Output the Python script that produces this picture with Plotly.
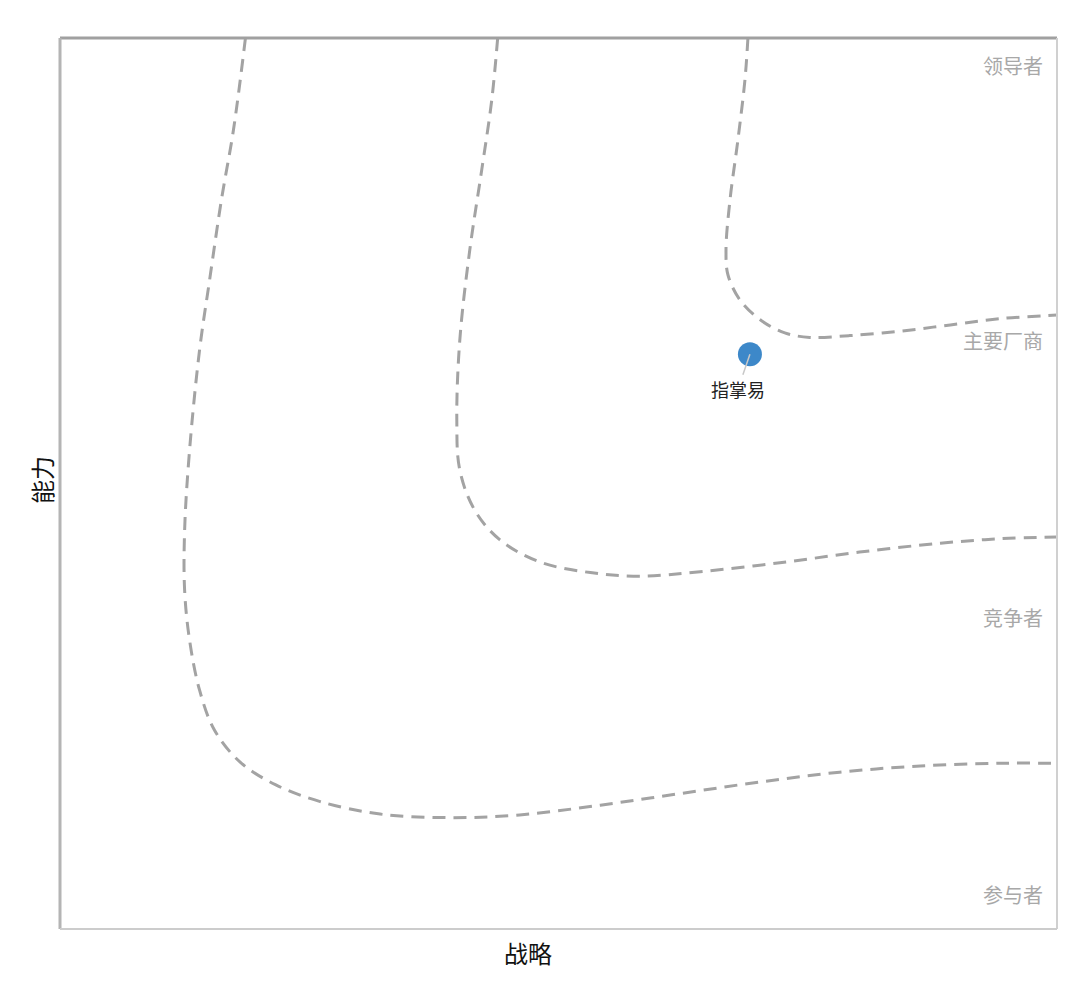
import plotly.graph_objects as go

# Boundary curves (strategy x, capability y), in 0-100 units
outer_x = [18.6, 17.4, 16.2, 15.0, 14.0, 13.0, 12.5, 12.5, 13.0, 14.0, 15.5, 18.1, 21.6, 26.1, 32.1, 39.1, 46.1, 54.2, 62.2, 70.2, 78.2, 86.3, 94.3, 100]
outer_y = [100, 89.7, 81.9, 72.8, 65.0, 53.8, 44.8, 38.0, 32.4, 26.8, 22.3, 18.7, 16.2, 14.3, 12.9, 12.5, 12.8, 13.9, 15.2, 16.5, 17.6, 18.3, 18.6, 18.6]

middle_x = [43.9, 43.3, 42.3, 41.1, 40.1, 39.8, 40.1, 41.6, 44.1, 48.1, 53.2, 58.2, 64.2, 72.2, 80.2, 88.3, 94.3, 100]
middle_y = [100, 93.0, 85.2, 76.2, 66.1, 57.1, 51.5, 47.0, 43.7, 41.2, 40.0, 39.6, 40.1, 41.1, 42.3, 43.3, 43.8, 44.0]

inner_x = [69.0, 68.7, 68.0, 67.2, 66.8, 67.0, 68.2, 70.2, 72.7, 75.2, 79.2, 84.3, 89.3, 94.3, 100]
inner_y = [100, 95.3, 88.6, 81.8, 76.2, 73.4, 70.6, 68.4, 66.9, 66.4, 66.6, 67.1, 67.8, 68.5, 68.9]

# Vendors
vendor_names = ["指掌易"]
vendor_x = [69.2]
vendor_y = [64.5]

# Zone labels
zone_labels = ["领导者", "主要厂商", "竞争者", "参与者"]
zone_y = [96.9, 66.0, 35.0, 3.9]

FONT = "Noto Sans CJK SC"

fig = go.Figure()
for xs, ys in [(outer_x, outer_y), (middle_x, middle_y), (inner_x, inner_y)]:
    fig.add_trace(go.Scatter(
        x=xs, y=ys, mode="lines",
        line=dict(color="#a3a3a3", width=3, dash="13px,8px", shape="spline", smoothing=1.0),
        hoverinfo="skip", showlegend=False,
    ))

fig.add_trace(go.Scatter(
    x=vendor_x, y=vendor_y, mode="markers",
    marker=dict(size=24, color="#3d88c9", line=dict(width=0)),
    text=vendor_names, hoverinfo="text", showlegend=False,
))

annotations = []
for name, vx, vy in zip(vendor_names, vendor_x, vendor_y):
    annotations.append(dict(
        x=vx, y=vy, xref="x", yref="y", text=name, showarrow=True,
        ax=-12, ay=35, arrowhead=0, arrowwidth=1.5, arrowcolor="#c8c8c8", standoff=0,
        font=dict(family=FONT, size=18, color="#222222"),
    ))

for lab, zy in zip(zone_labels, zone_y):
    annotations.append(dict(
        x=98.8, y=zy, xref="x", yref="y", text=lab, showarrow=False,
        xanchor="right", yanchor="middle",
        font=dict(family=FONT, size=20, color="#a8a8a8"),
    ))

annotations.append(dict(
    x=0.469, y=-0.026, xref="paper", yref="paper", text="战略", showarrow=False,
    xanchor="center", yanchor="middle", font=dict(family=FONT, size=24, color="#111111"),
))
annotations.append(dict(
    x=-0.018, y=0.504, xref="paper", yref="paper", text="能力", showarrow=False,
    textangle=-90, xanchor="center", yanchor="middle",
    font=dict(family=FONT, size=24, color="#111111"),
))

shapes = [
    dict(type="line", xref="paper", yref="paper", x0=0, x1=1, y0=1, y1=1, line=dict(color="#a0a0a0", width=3)),
    dict(type="line", xref="paper", yref="paper", x0=0, x1=0, y0=0, y1=1, line=dict(color="#b4b4b4", width=3)),
    dict(type="line", xref="paper", yref="paper", x0=1, x1=1, y0=0, y1=1, line=dict(color="#d0d0d0", width=2)),
    dict(type="line", xref="paper", yref="paper", x0=0, x1=1, y0=0, y1=0, line=dict(color="#cccccc", width=2)),
]

fig.update_layout(
    width=1064, height=971,
    margin=dict(l=52, r=15, t=30, b=50),
    paper_bgcolor="white", plot_bgcolor="white",
    xaxis=dict(range=[0, 100], showgrid=False, zeroline=False, showticklabels=False, ticks="", fixedrange=True),
    yaxis=dict(range=[0, 100], showgrid=False, zeroline=False, showticklabels=False, ticks="", fixedrange=True),
    annotations=annotations, shapes=shapes,
    font=dict(family=FONT),
)

fig.write_html("out.html")
